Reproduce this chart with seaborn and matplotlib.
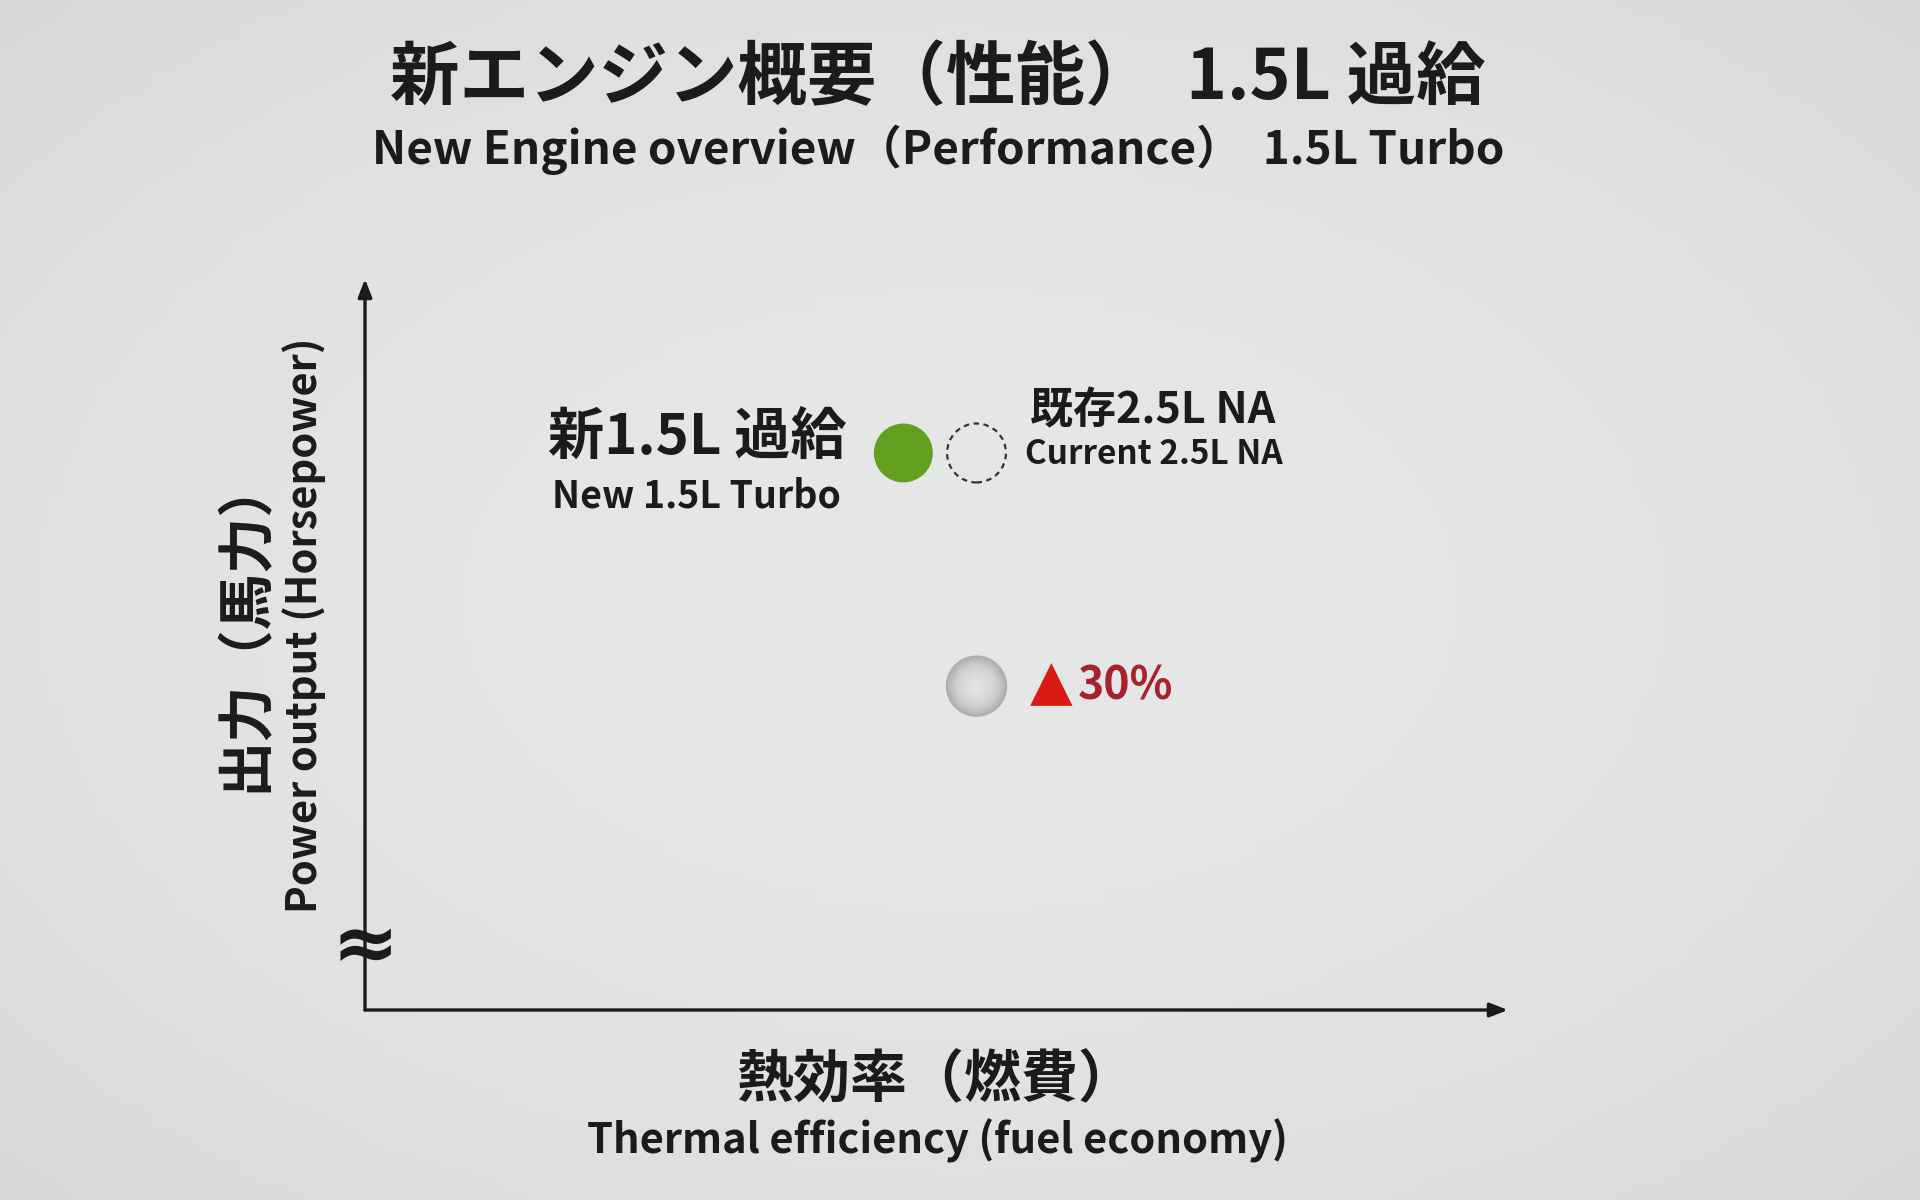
import numpy as np
import pandas as pd
import matplotlib
matplotlib.use("Agg")
import matplotlib.pyplot as plt
import seaborn as sns

# 位置は相対値（軸の 0-100）
engines = ["新1.5L 過給", "既存2.5L NA", "既存2.5L NA 出力"]
thermal_eff = [47.1, 53.5, 53.5]
power_out = [76.2, 76.2, 44.3]

title_jp = "新エンジン概要（性能）  1.5L 過給"
title_en = "New Engine overview（Performance）  1.5L Turbo"
xlabel_jp = "熱効率（燃費）"
xlabel_en = "Thermal efficiency (fuel economy)"
ylabel_jp = "出力（馬力）"
ylabel_en = "Power output (Horsepower)"
new_jp, new_en = "新1.5L 過給", "New 1.5L Turbo"
cur_jp, cur_en = "既存2.5L NA", "Current 2.5L NA"
gain_label = "30%"

df = pd.DataFrame({"engine": engines, "eff": thermal_eff, "power": power_out})

sns.set_theme(style="white")
plt.rcParams["font.family"] = ["Noto Sans CJK JP", "DejaVu Sans"]

BG = "#e0e2e1"
INK = "#1b1b1b"
GREEN = "#63a020"

fig = plt.figure(figsize=(19.2, 12), dpi=100, facecolor=BG)

# 背景のうっすらしたグラデーション
bg = fig.add_axes([0, 0, 1, 1], zorder=-5)
gx, gy = np.meshgrid(np.linspace(-1, 1, 200), np.linspace(-1, 1, 125))
bg.imshow(-(gx ** 2 + gy ** 2), cmap=sns.blend_palette(["#d7d9d9", "#e6e8e7"], as_cmap=True),
          aspect="auto", extent=[0, 1, 0, 1])
bg.axis("off")

ax = fig.add_axes([365 / 1920, 1 - 1010 / 1200, (1508 - 365) / 1920, (1010 - 279) / 1200])
ax.set_facecolor("none")
ax.set_xlim(0, 100)
ax.set_ylim(0, 100)
ax.set_xticks([])
ax.set_yticks([])
for s in ax.spines.values():
    s.set_visible(False)

# 軸の矢印
arrow = dict(arrowstyle="-|>,head_length=0.9,head_width=0.35", color=INK, lw=2.4, shrinkA=0, shrinkB=0)
ax.annotate("", xy=(1, 0), xytext=(0, 0), xycoords="axes fraction", arrowprops=arrow)
ax.annotate("", xy=(0, 1), xytext=(0, 0), xycoords="axes fraction", arrowprops=arrow)
ax.text(0, 0.085, "≈", transform=ax.transAxes, ha="center", va="center",
        fontsize=58, color=INK, family="DejaVu Sans", fontweight="bold")

new = df.iloc[[0]]
cur = df.iloc[[1]]
low = df.iloc[[2]]

sns.scatterplot(data=new, x="eff", y="power", ax=ax, s=1800, color=GREEN,
                edgecolor="none", legend=False, zorder=3)
sns.scatterplot(data=cur, x="eff", y="power", ax=ax, s=1800, facecolor="none",
                edgecolor="#333333", linewidth=1.6, linestyle=(0, (2.5, 2)), legend=False, zorder=3)
# 灰色の球（グラデーション風）
sphere_cols = sns.blend_palette(["#a9abad", "#c9cbcd", "#dfe1e2"], 24)
for size, col in zip(np.linspace(1950, 60, 24), sphere_cols):
    sns.scatterplot(data=low, x="eff", y="power", ax=ax, s=size, color=col,
                    edgecolor="none", legend=False, zorder=3)

nx, ny = new["eff"].iloc[0], new["power"].iloc[0]
cx, cy = cur["eff"].iloc[0], cur["power"].iloc[0]
lx, ly = low["eff"].iloc[0], low["power"].iloc[0]

ax.annotate(new_jp, (nx, ny), xytext=(-57, 16), textcoords="offset pixels",
            ha="right", va="center", fontsize=40.5, fontweight="bold", color=INK)
ax.annotate(new_en, (nx, ny), xytext=(-62, -43), textcoords="offset pixels",
            ha="right", va="center", fontsize=27, fontweight="bold", color=INK)
ax.annotate(cur_jp, (cx, cy), xytext=(53, 43), textcoords="offset pixels",
            ha="left", va="center", fontsize=31, fontweight="bold", color=INK)
ax.annotate(cur_en, (cx, cy), xytext=(48, -2), textcoords="offset pixels",
            ha="left", va="center", fontsize=24, fontweight="bold", color=INK)
ax.annotate("▲", (lx, ly), xytext=(53, 2), textcoords="offset pixels",
            ha="left", va="center", fontsize=40, color="#d81c12", family="DejaVu Sans")
ax.annotate(gain_label, (lx, ly), xytext=(101, 0), textcoords="offset pixels",
            ha="left", va="center", fontsize=32, fontweight="bold", color="#a8222e")

# 見出し
fig.text(0.4886, 0.934, title_jp, ha="center", va="center", fontsize=50, fontweight="bold", color=INK)
fig.text(0.4886, 0.875, title_en, ha="center", va="center", fontsize=33, fontweight="bold", color=INK)

# 軸ラベル
fig.text(245 / 1920, 1 - 623 / 1200, ylabel_jp, rotation=90, ha="center", va="center",
         fontsize=40.5, fontweight="bold", color=INK)
fig.text(304 / 1920, 1 - 625 / 1200, ylabel_en, rotation=90, ha="center", va="center",
         fontsize=30, fontweight="bold", color=INK)
fig.text(936 / 1920, 1 - 1080 / 1200, xlabel_jp, ha="center", va="center",
         fontsize=41, fontweight="bold", color=INK)
fig.text(937 / 1920, 1 - 1141 / 1200, xlabel_en, ha="center", va="center",
         fontsize=30, fontweight="bold", color=INK)

fig.savefig("out.png", dpi=100, facecolor=BG)
